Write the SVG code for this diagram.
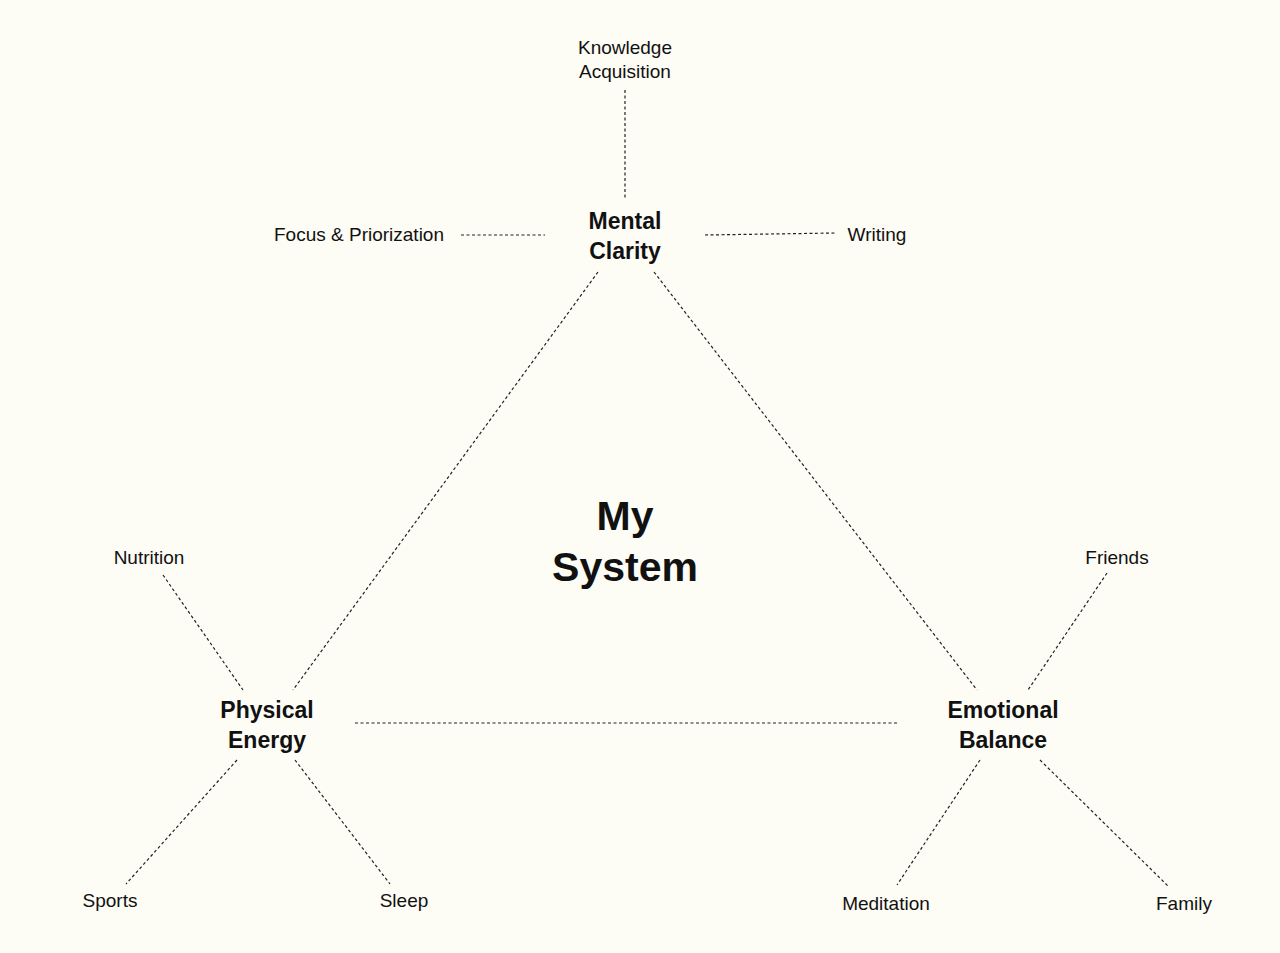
<svg xmlns="http://www.w3.org/2000/svg" width="1280" height="953" viewBox="0 0 1280 953">
<style>
text{font-family:"Liberation Sans",Arial,sans-serif;fill:#111;text-anchor:middle}
.s{font-size:19px}
.b{font-size:23px;font-weight:bold}
.t{font-size:41px;font-weight:bold}
.c line{stroke:#222;stroke-width:1.2;stroke-dasharray:3 2.5}
</style>
<rect width="1280" height="953" fill="#fdfcf5"/>
<g class="c" id="connectors">
<line x1="625" y1="90" x2="625" y2="200"/>
<line x1="461" y1="235" x2="545" y2="235"/>
<line x1="705" y1="235" x2="836" y2="233"/>
<line x1="598" y1="272" x2="293" y2="690"/>
<line x1="654" y1="272" x2="977" y2="690"/>
<line x1="355" y1="723" x2="898" y2="723"/>
<line x1="163" y1="575" x2="243" y2="690"/>
<line x1="237" y1="760" x2="126" y2="884"/>
<line x1="295" y1="760" x2="390" y2="884"/>
<line x1="1107" y1="573" x2="1028" y2="690"/>
<line x1="980" y1="760" x2="897" y2="885"/>
<line x1="1040" y1="760" x2="1168" y2="886"/>
</g>
<g id="center"><text class="t" x="625" y="530">My</text><text class="t" x="625" y="581">System</text></g>
<g id="mental"><text class="b" x="625" y="229">Mental</text><text class="b" x="625" y="259">Clarity</text></g>
<g id="physical"><text class="b" x="267" y="718">Physical</text><text class="b" x="267" y="748">Energy</text></g>
<g id="emotional"><text class="b" x="1003" y="718">Emotional</text><text class="b" x="1003" y="748">Balance</text></g>
<g id="knowledge"><text class="s" x="625" y="54">Knowledge</text><text class="s" x="625" y="78">Acquisition</text></g>
<g id="focus"><text class="s" x="359" y="241">Focus &amp; Priorization</text></g>
<g id="writing"><text class="s" x="877" y="241">Writing</text></g>
<g id="nutrition"><text class="s" x="149" y="564">Nutrition</text></g>
<g id="sports"><text class="s" x="110" y="907">Sports</text></g>
<g id="sleep"><text class="s" x="404" y="907">Sleep</text></g>
<g id="friends"><text class="s" x="1117" y="564">Friends</text></g>
<g id="meditation"><text class="s" x="886" y="910">Meditation</text></g>
<g id="family"><text class="s" x="1184" y="910">Family</text></g>
</svg>
